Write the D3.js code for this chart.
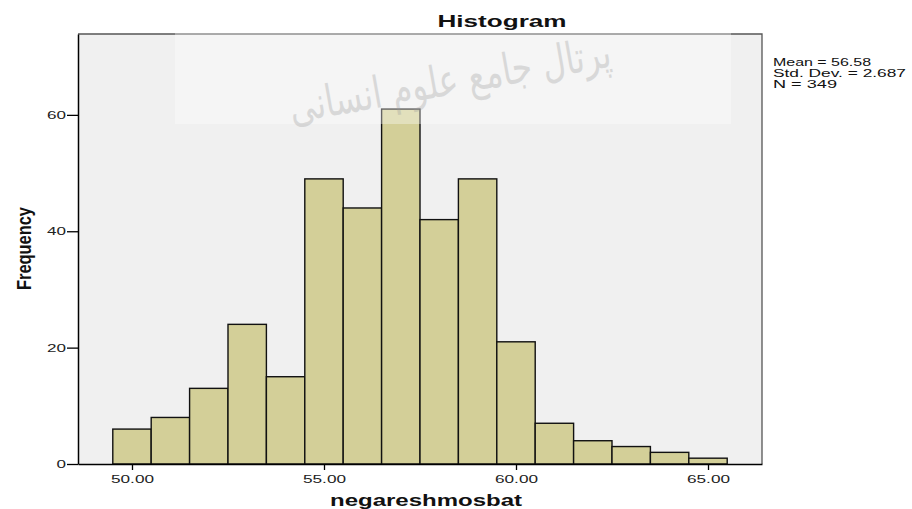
<!DOCTYPE html>
<html>
<head>
<meta charset="utf-8">
<script src="https://cdn.jsdelivr.net/npm/d3@7"></script>
<style>
  body { margin: 0; background: #fff; }
  svg { display: block; font-family: "Liberation Sans", Arial, sans-serif; }
</style>
</head>
<body>
<svg id="chart" width="912" height="509"></svg>
<script>
// bin centres (width 1) and counts
const binCenters = [50, 51, 52, 53, 54, 55, 56, 57, 58, 59, 60, 61, 62, 63, 64, 65];
const counts = [6, 8, 13, 24, 15, 49, 44, 61, 42, 49, 21, 7, 4, 3, 2, 1];
const xTicks = [50, 55, 60, 65];
const yTicks = [0, 20, 40, 60];
const statLines = ["Mean = 56.58", "Std. Dev. = 2.687", "N = 349"];

const svg = d3.select("#chart");
const plotL = 78, plotR = 762, plotT = 34, plotB = 464;
// the source picture is stretched sideways, so text is widened with textLength
const stretch = 1.5;

const x = d3.scaleLinear().domain([48.594, 66.406]).range([plotL, plotR]);
const y = d3.scaleLinear().domain([0, 73.9]).range([plotB, plotT]);

// plot background
svg.append("rect")
  .attr("x", plotL).attr("y", plotT)
  .attr("width", plotR - plotL).attr("height", plotB - plotT)
  .attr("fill", "#f0f0f0");

// frame top / right (grey)
svg.append("path")
  .attr("d", `M${plotL},${plotT}H${plotR}V${plotB}`)
  .attr("fill", "none").attr("stroke", "#555").attr("stroke-width", 1.3);

// bars
svg.selectAll("rect.bar")
  .data(counts)
  .enter()
  .append("rect")
  .attr("class", "bar")
  .attr("x", (d, i) => x(binCenters[i] - 0.5))
  .attr("y", d => y(d))
  .attr("width", (d, i) => x(binCenters[i] + 0.5) - x(binCenters[i] - 0.5))
  .attr("height", d => y(0) - y(d))
  .attr("fill", "#d3cf98")
  .attr("stroke", "#111")
  .attr("stroke-width", 1.4);

// y axis
const yAxis = svg.append("g")
  .attr("transform", `translate(${plotL},0)`)
  .call(d3.axisLeft(y).tickValues(yTicks).tickSize(11).tickSizeOuter(0).tickPadding(1).tickFormat(d3.format("d")));
yAxis.select(".domain").attr("stroke", "#000").attr("stroke-width", 1.5);
yAxis.selectAll(".tick line").attr("stroke", "#000").attr("stroke-width", 1.3);
yAxis.selectAll("text")
  .attr("font-size", 11).attr("fill", "#222")
  .attr("font-family", "'Liberation Sans', Arial, sans-serif")
  .attr("textLength", d => String(d).length * 9.5)
  .attr("lengthAdjust", "spacingAndGlyphs");

// x axis
const xAxis = svg.append("g")
  .attr("transform", `translate(0,${plotB})`)
  .call(d3.axisBottom(x).tickValues(xTicks).tickSize(6).tickSizeOuter(0).tickPadding(5).tickFormat(d3.format(".2f")));
xAxis.select(".domain").attr("stroke", "#000").attr("stroke-width", 1.5);
xAxis.selectAll(".tick line").attr("stroke", "#000").attr("stroke-width", 1.3);
xAxis.selectAll("text")
  .attr("font-size", 11).attr("fill", "#222")
  .attr("font-family", "'Liberation Sans', Arial, sans-serif")
  .attr("textLength", 43)
  .attr("lengthAdjust", "spacingAndGlyphs");

// watermark
svg.append("rect")
  .attr("x", 175).attr("y", 0).attr("width", 556).attr("height", 124)
  .attr("fill", "#fff").attr("opacity", 0.35);
svg.append("text")
  .attr("x", 449).attr("y", 95)
  .attr("text-anchor", "middle")
  .attr("font-family", "'DejaVu Sans', sans-serif")
  .attr("font-size", 44)
  .attr("fill", "#999")
  .attr("opacity", 0.3)
  .attr("textLength", 326)
  .attr("lengthAdjust", "spacingAndGlyphs")
  .attr("transform", "rotate(-10,449,75)")
  .text("پرتال جامع علوم انسانی");

// title
svg.append("text")
  .attr("x", 502).attr("y", 27)
  .attr("text-anchor", "middle")
  .attr("font-size", 17).attr("font-weight", "bold").attr("fill", "#111")
  .attr("textLength", 129).attr("lengthAdjust", "spacingAndGlyphs")
  .text("Histogram");

// axis titles
svg.append("text")
  .attr("transform", `translate(30.5,248.5) rotate(-90) scale(1,${1.3})`)
  .attr("text-anchor", "middle")
  .attr("font-size", 16).attr("font-weight", "bold").attr("fill", "#111")
  .attr("textLength", 83).attr("lengthAdjust", "spacingAndGlyphs")
  .text("Frequency");

svg.append("text")
  .attr("x", 426).attr("y", 506)
  .attr("text-anchor", "middle")
  .attr("font-size", 16).attr("font-weight", "bold").attr("fill", "#111")
  .attr("textLength", 128 * stretch).attr("lengthAdjust", "spacingAndGlyphs")
  .text("negareshmosbat");

// stats box
const statWidths = [98, 133, 64];
svg.append("g")
  .selectAll("text")
  .data(statLines)
  .enter()
  .append("text")
  .attr("x", 773)
  .attr("y", (d, i) => 65.5 + i * 11)
  .attr("font-size", 10).attr("fill", "#111")
  .attr("textLength", (d, i) => statWidths[i])
  .attr("lengthAdjust", "spacingAndGlyphs")
  .text(d => d);
</script>
</body>
</html>
